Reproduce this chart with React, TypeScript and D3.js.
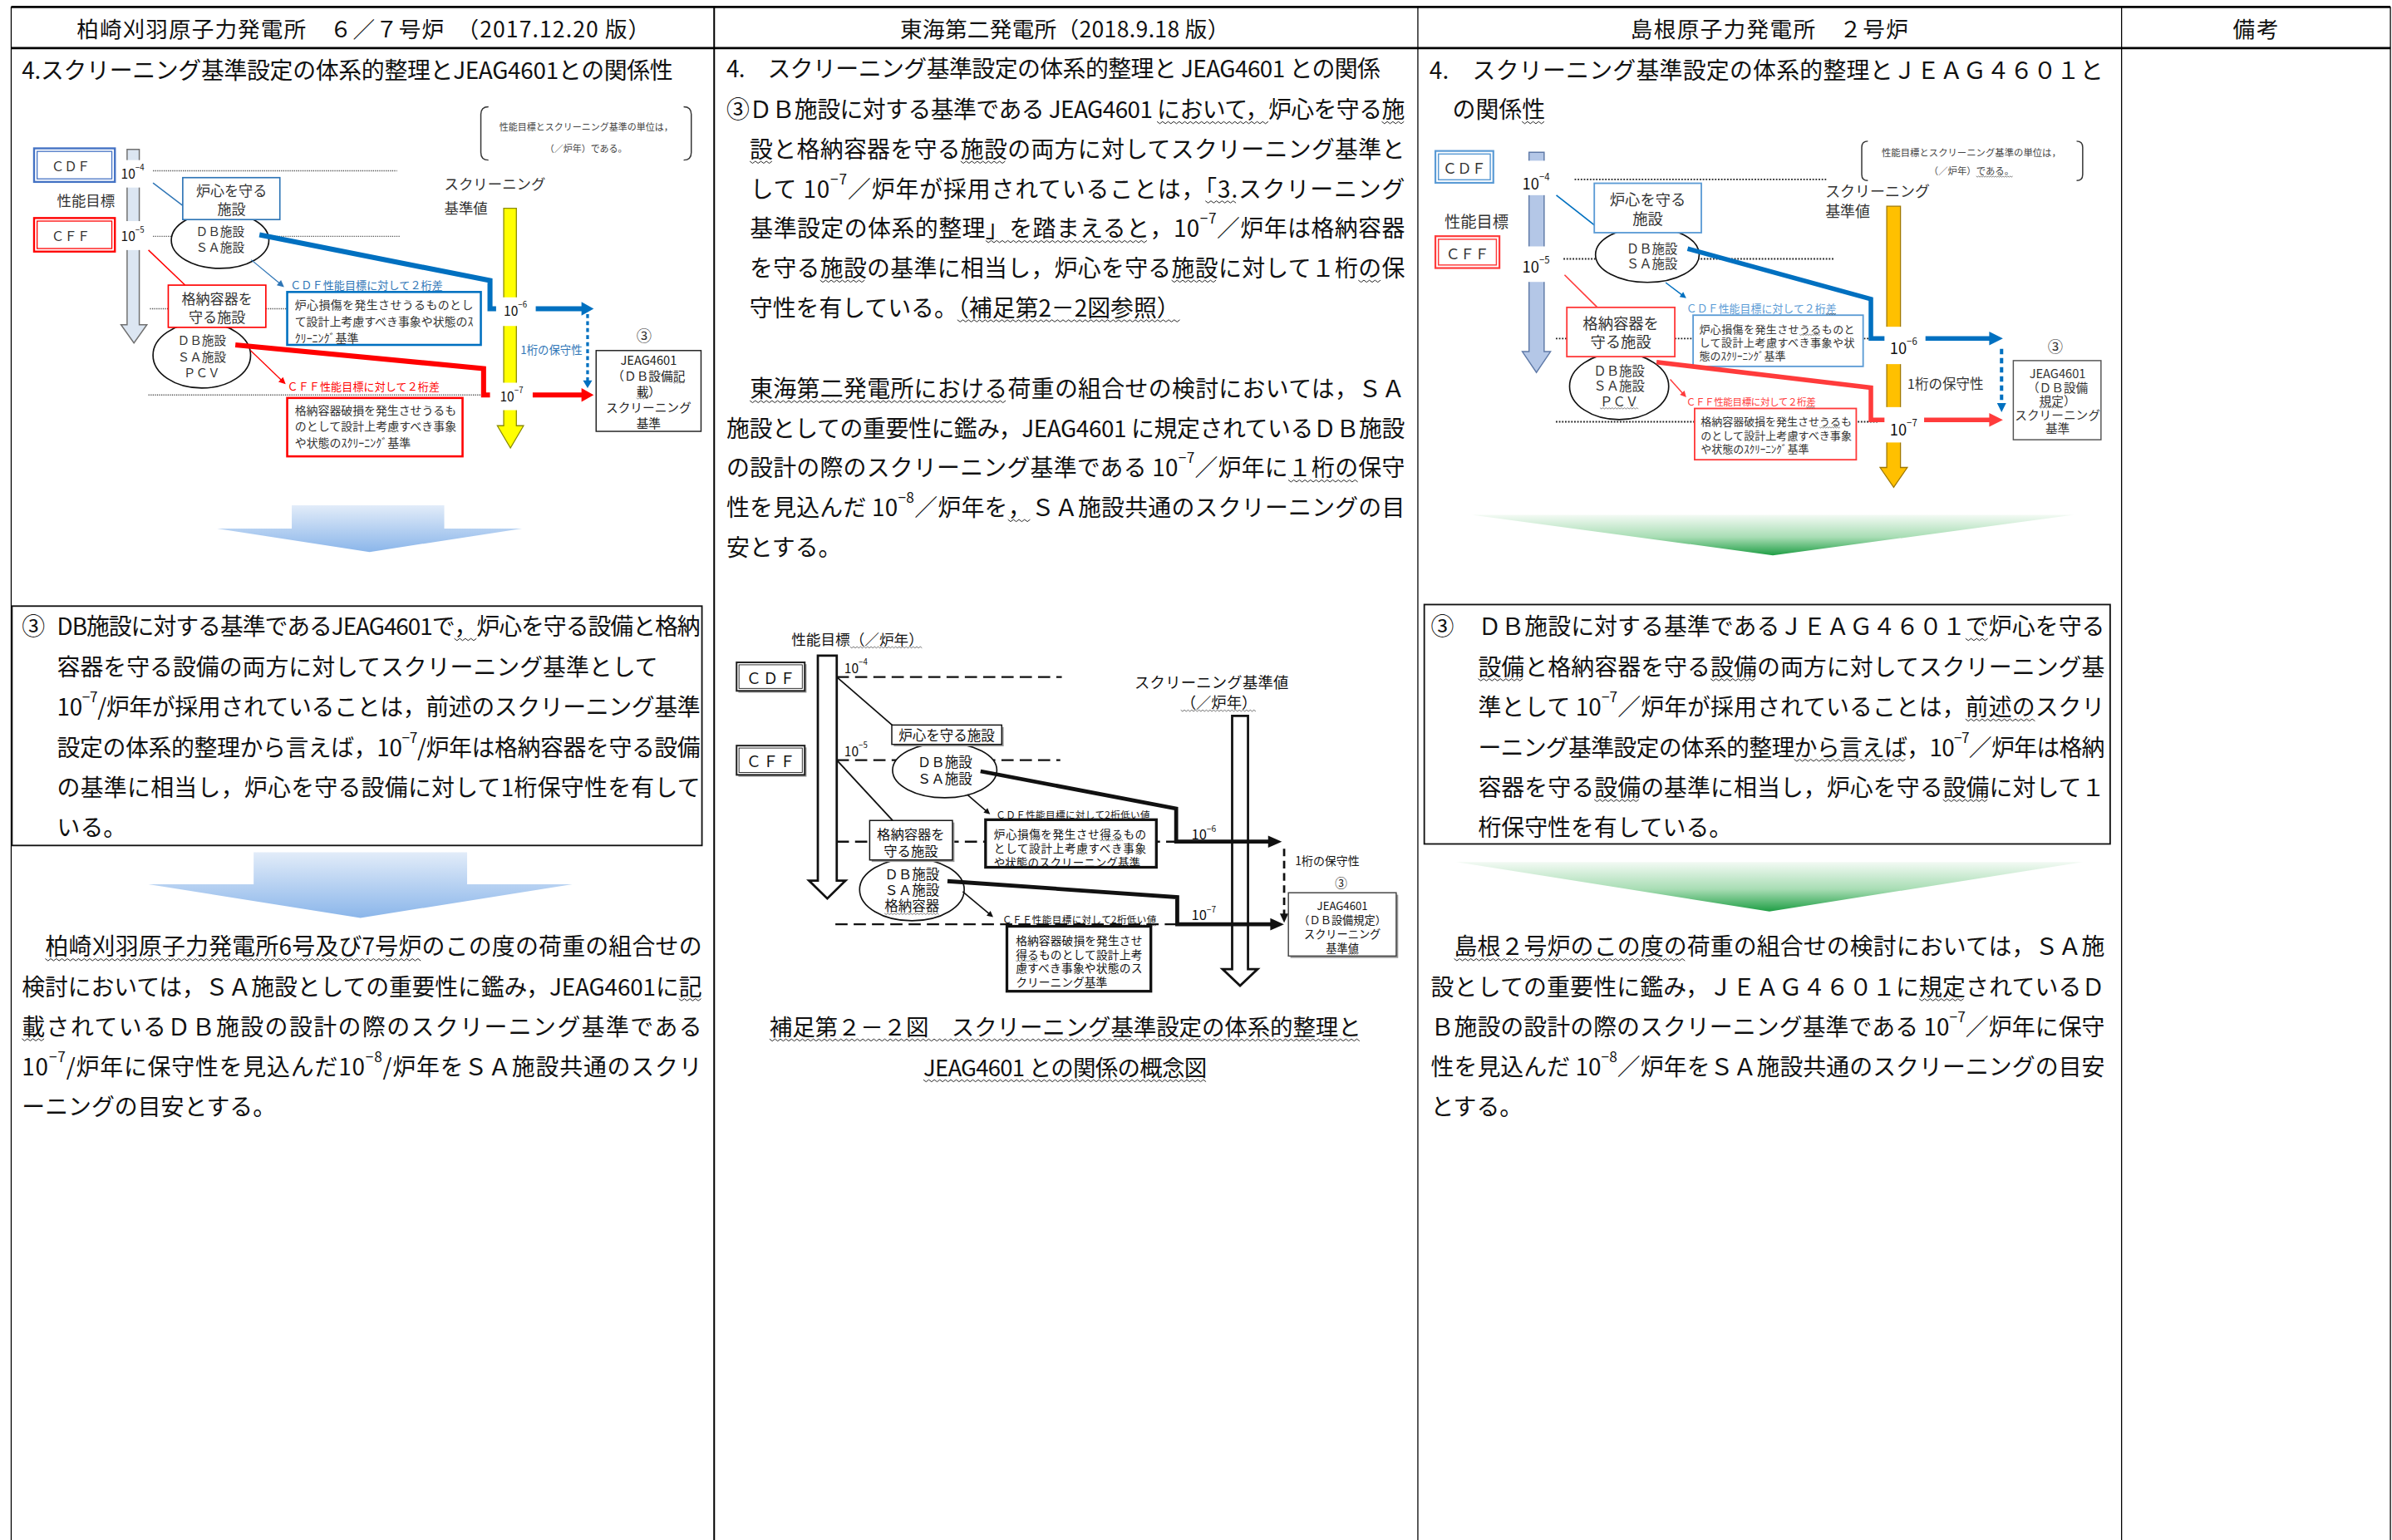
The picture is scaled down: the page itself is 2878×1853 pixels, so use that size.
import { useEffect, useRef } from 'react'
import * as d3 from 'd3'

const FONT = "'Noto Sans CJK JP', 'Noto Sans', sans-serif"

// table header
const HEADERS = ['柏崎刈羽原子力発電所　６／７号炉　（2017.12.20 版）', '東海第二発電所（2018.9.18 版）', '島根原子力発電所　２号炉', '備考']

// 柏崎刈羽 column
const KK_TITLE = '4.スクリーニング基準設定の体系的整理とJEAG4601との関係性'
const KK_BOX = [
  'DB施設に対する基準であるJEAG4601で{，}炉心を守る設備と格納',
  '容器を守る設備の両方に対してスクリーニング基準として',
  '10^-7/炉年が採用されていることは，前述のスクリーニング基準',
  '設定の体系的整理から言えば，10^-7/炉年は格納容器を守る設備',
  'の基準に相当し，炉心を守る設備に対して1桁保守性を有して',
  'いる。',
]
const KK_PARA = [
  '　{柏崎刈羽原子力発電所6号及び7号炉}のこの度の荷重の組合せの',
  '検討においては，ＳＡ施設としての重要性に鑑み，JEAG4601に{記}',
  '{載}されているＤＢ施設の設計の際のスクリーニング基準である',
  '10^-7/炉年に保守性を見込んだ10^-8/炉年をＳＡ施設共通のスクリ',
  'ーニングの目安とする。',
]

// 東海第二 column
const TK_TITLE = '4.　スクリーニング基準設定の体系的整理と JEAG4601 との関係'
const TK_PARA1 = [
  '③ＤＢ施設に対する基準である JEAG4601 {において，}炉心を守る{施}',
  '　{設}と格納容器を守る{施設}の両方に対してスクリーニング基準と',
  '　して 10^-7／炉年が採用されていることは，{「3.}スクリーニング',
  '　基準設定の体系的整理{」を踏まえると}，10^-7／炉年は格納容器',
  '　を守る{施設}の基準に相当し，炉心を守る{施設}に対して１桁{の}保',
  '　守性を有している。{（補足第2－2図参照）}',
]
const TK_PARA2 = [
  '　{東海第二発電所における}荷重の組合せの検討においては，ＳＡ',
  '施設としての重要性に鑑み，JEAG4601 に規定されているＤＢ施設',
  'の設計の際のスクリーニング基準である 10^-7／炉年に{１桁の}保守',
  '性を見込んだ 10^-8／炉年を{，}ＳＡ施設共通のスクリーニングの目',
  '安とする。',
]
const TK_CAPTION = ['{補足第２－２図　スクリーニング基準設定の体系的整理と}', '{JEAG4601 との関係の概念図}']

// 島根 column
const SM_TITLE = ['4.　スクリーニング基準設定の体系的整理とＪＥＡＧ４６０１と', '　の関係{性}']
const SM_BOX = [
  'ＤＢ施設に対する基準であるＪＥＡＧ４６０１{で}炉心を守る',
  '{設備}と格納容器を守る{設備}の両方に対してスクリーニング基',
  '準として 10^-7／炉年が採用されていることは，{前述の}スクリ',
  'ーニング基準設定の体系的整理{から言えば}，10^-7／炉年は格納',
  '容器を守る{設備}の基準に相当し，炉心を守る{設備}に対して１',
  '桁保守性を有している。',
]
const SM_PARA = [
  '　{島根２号炉のこの度の}荷重の組合せの検討においては，ＳＡ施',
  '設としての重要性に鑑み，ＪＥＡＧ４６０１に{規定}されているＤ',
  'Ｂ施設の設計の際のスクリーニング基準である 10^-7／炉年に保守',
  '性を見込んだ 10^-8／炉年をＳＡ施設共通のスクリーニングの目安',
  'とする。',
]

// diagram texts
const LEVEL_EXP = [-4, -5, -6, -7]
const LEVELS = LEVEL_EXP.map(e => Math.pow(10, e))
const NOTE = ['性能目標とスクリーニング基準の単位は，', '（／炉年）である。']
const NOTE_SM = ['性能目標とスクリーニング基準の単位は，', '（／炉年）{である。}']
const KK_CDF_DESC = ['炉心損傷を発生させうるものとし', 'て設計上考慮すべき事象や状態のｽ', 'ｸﾘｰﾆﾝｸﾞ基準']
const KK_CFF_DESC = ['格納容器破損を発生させうるも', 'のとして設計上考慮すべき事象', 'や状態のｽｸﾘｰﾆﾝｸﾞ基準']
const KK_JEAG = ['JEAG4601', '（ＤＢ設備{記}', '{載}）', 'スクリーニング', '基準']
const TK_CDF_DESC = ['炉心損傷を発生させ{得る}もの', 'として設計上考慮すべき事象', 'や状態のスクリーニング基準']
const TK_CFF_DESC = ['格納容器破損を発生させ', '{得る}ものとして設計上考', '慮すべき事象や状態のス', 'クリーニング基準']
const TK_JEAG = ['JEAG4601', '（ＤＢ設備規定）', 'スクリーニング', '基準{値}']
const SM_CDF_DESC = ['炉心損傷を発生させ{うる}ものと', 'して設計上考慮すべき事象や状', '態のｽｸﾘｰﾆﾝｸﾞ基準']
const SM_CFF_DESC = ['格納容器破損を発生させ{うる}も', 'のとして設計上考慮すべき事象', 'や状態のｽｸﾘｰﾆﾝｸﾞ基準']
const SM_JEAG = ['JEAG4601', '（ＤＢ設備', '{規定}）', 'スクリーニング', '基準']

// layout (reference frame 1568 x 1010)
const COL_X = [7, 468, 929.5, 1391, 1567.3]
const HEAD_CX = [238, 698, 1160, 1479]
const HEAD_LEN = [376, 216, 182, 30]
const BODY = 15.2

type Seg = { t: string; sup?: boolean; wv?: boolean }
function parse(s: string): Seg[] {
  const out: Seg[] = []
  let wv = false, buf = ''
  const flush = () => { if (buf) out.push({ t: buf, wv }); buf = '' }
  for (let i = 0; i < s.length; i++) {
    const c = s[i]
    if (c === '{' || c === '}') { flush(); wv = c === '{'; continue }
    if (c === '^') {
      flush()
      let j = i + 1, e = ''
      while (j < s.length && /[-0-9]/.test(s[j])) { e += s[j]; j++ }
      out.push({ t: e.replace('-', '−'), sup: true, wv })
      i = j - 1
      continue
    }
    buf += c
  }
  flush()
  return out
}

function Txt({ s, x, y, size, fill = '#111', anchor = 'start', len }: any) {
  return (
    <text x={x} y={y} fontSize={size} fill={fill} textAnchor={anchor} dominantBaseline="central"
      textLength={len} lengthAdjust={len ? 'spacing' : undefined}>
      {parse(s).map((g, i) => (
        <tspan key={i} className={g.wv ? 'wv' : undefined}
          fontSize={g.sup ? size * 0.62 : undefined}
          baselineShift={g.sup ? size * 0.42 : undefined}>{g.t}</tspan>
      ))}
    </text>
  )
}

function Para({ lines, x0, x1, y0, dy, size = BODY, ragged = [] as number[] }: any) {
  return <>{lines.map((s: string, i: number) => {
    const free = i === lines.length - 1 || ragged.includes(i)
    return <Txt key={i} s={s} x={x0} y={y0 + i * dy} size={size} len={free ? undefined : x1 - x0} />
  })}</>
}

function Lines({ lines, x, y0, dy, size, anchor = 'start', len, fill = '#111' }: any) {
  return <>{lines.map((s: string, i: number) => (
    <Txt key={i} s={s} x={x} y={y0 + i * dy} size={size} anchor={anchor} fill={fill}
      len={len && i < lines.length - 1 ? len : undefined} />
  ))}</>
}

function Arrow({ pts, color = '#111', w = 1, hl = 6, hw = 3, dash }: any) {
  const n = pts.length
  const [x1, y1] = pts[n - 1], [x0, y0] = pts[n - 2]
  const L = Math.hypot(x1 - x0, y1 - y0), ux = (x1 - x0) / L, uy = (y1 - y0) / L
  const bx = x1 - ux * hl, by = y1 - uy * hl
  const d = d3.line()([...pts.slice(0, n - 1), [bx + ux * 0.5, by + uy * 0.5]])
  const head = [[x1, y1], [bx - uy * hw, by + ux * hw], [bx + uy * hw, by - ux * hw]]
  return (
    <g>
      <path d={d || ''} fill="none" stroke={color} strokeWidth={w} strokeDasharray={dash} strokeLinejoin="miter" />
      <polygon points={head.map(p => p.join(',')).join(' ')} fill={color} />
    </g>
  )
}

function Poly({ pts, color = '#111', w = 1 }: any) {
  return <path d={d3.line()(pts) || ''} fill="none" stroke={color} strokeWidth={w} strokeLinejoin="miter" />
}

function BlockArrowV({ x0, x1, y0, y1, hx0, hx1, hy, fill, stroke, sw }: any) {
  const cx = (hx0 + hx1) / 2
  const pts = [[x0, y0], [x1, y0], [x1, hy], [hx1, hy], [cx, y1], [hx0, hy], [x0, hy]]
  return <polygon points={pts.map(p => p.join(',')).join(' ')} fill={fill} stroke={stroke} strokeWidth={sw} />
}

function Bracket({ x0, x1, y0, y1, r = 5 }: any) {
  const p = d3.path()
  p.moveTo(x0 + r, y0); p.quadraticCurveTo(x0, y0, x0, y0 + r); p.lineTo(x0, y1 - r); p.quadraticCurveTo(x0, y1, x0 + r, y1)
  p.moveTo(x1 - r, y0); p.quadraticCurveTo(x1, y0, x1, y0 + r); p.lineTo(x1, y1 - r); p.quadraticCurveTo(x1, y1, x1 - r, y1)
  return <path d={p.toString()} fill="none" stroke="#333" strokeWidth={0.8} />
}

function Box({ x0, y0, x1, y1, stroke = '#111', sw = 0.8, shadow = false }: any) {
  return (
    <g>
      {shadow && <rect x={x0 + 1.3} y={y0 + 1.3} width={x1 - x0} height={y1 - y0} fill="#9a9a9a" />}
      <rect x={x0} y={y0} width={x1 - x0} height={y1 - y0} fill="#fff" stroke={stroke} strokeWidth={sw} />
    </g>
  )
}

function DoubleBox({ x0, y0, x1, y1, color, gap = 2, w1 = 1.3, w2 = 0.7 }: any) {
  return (
    <g fill="#fff" stroke={color}>
      <rect x={x0} y={y0} width={x1 - x0} height={y1 - y0} strokeWidth={w1} />
      <rect x={x0 + gap} y={y0 + gap} width={x1 - x0 - 2 * gap} height={y1 - y0 - 2 * gap} strokeWidth={w2} />
    </g>
  )
}

function Ell({ cx, cy, rx, ry }: any) {
  return <ellipse cx={cx} cy={cy} rx={rx} ry={ry} fill="#fff" stroke="#111" strokeWidth={0.9} />
}

function HL({ x0, x1, y, ...rest }: any) {
  return <line x1={x0} x2={x1} y1={y} y2={y} {...rest} />
}

// 柏崎刈羽 diagram
function DiagramKK() {
  const y = d3.scaleLog().domain(LEVELS).range([112, 155, 202.5, 259])
  const [y4, y5, y6, y7] = LEVELS.map(v => y(v))
  const blue = '#0070c0', red = '#ff0000', lb = '#2e75b6'
  return (
    <g>
      <Bracket x0={315} x1={453} y0={70} y1={105} />
      {NOTE.map((s, i) => <Txt key={i} s={s} x={384} y={83 + i * 14} size={6} anchor="middle" fill="#444" />)}
      <g stroke="#555" strokeWidth={0.8} strokeDasharray="0.7 0.7">
        <HL x0={100} x1={260} y={y4} />
        <HL x0={100} x1={262} y={y5} />
        <HL x0={98} x1={110} y={y6} />
        <HL x0={174} x1={188} y={y6} />
        <HL x0={97} x1={318} y={y7} />
      </g>
      <BlockArrowV x0={83} x1={91} y0={98} y1={225} hx0={79} hx1={96} hy={213} fill="#dce6f2" stroke="#707070" sw={0.8} />
      <rect x={77} y={105} width={22} height={18} fill="#fff" />
      <rect x={77} y={145} width={22} height={19} fill="#fff" />
      <Txt s={`10^${LEVEL_EXP[0]}`} x={79} y={y4 + 1.5} size={8.5} />
      <Txt s={`10^${LEVEL_EXP[1]}`} x={79} y={y5 - 0.5} size={8.5} />
      <DoubleBox x0={22} y0={97.3} x1={75} y1={119.3} color="#4472c4" />
      <Txt s="ＣＤＦ" x={46} y={108.3} size={8.5} anchor="middle" fill="#333" />
      <DoubleBox x0={22} y0={143} x1={75} y1={165} color={red} />
      <Txt s="ＣＦＦ" x={46} y={154} size={8.5} anchor="middle" fill="#333" />
      <Txt s="性能目標" x={37} y={131} size={9.5} fill="#333" />
      <line x1={100} y1={120} x2={119.5} y2={134.8} stroke={lb} strokeWidth={0.8} />
      <line x1={97} y1={164} x2={121} y2={187} stroke={red} strokeWidth={0.8} />
      <Ell cx={144} cy={157.5} rx={32} ry={18.5} />
      <Box x0={119.5} y0={116.5} x1={183.2} y1={144} stroke={lb} sw={0.9} />
      <Lines lines={['炉心を守る', '施設']} x={151.5} y0={124.5} dy={11.5} size={9.3} anchor="middle" fill="#333" />
      <Lines lines={['ＤＢ施設', 'ＳＡ施設']} x={144} y0={151} dy={10.5} size={8} anchor="middle" fill="#333" />
      <Ell cx={132} cy={233} rx={32} ry={21.5} />
      <Box x0={110} y0={187} x1={174} y1={214.7} stroke={red} sw={0.9} />
      <Lines lines={['格納容器を', '守る施設']} x={142} y0={195} dy={12} size={9.3} anchor="middle" fill="#333" />
      <Lines lines={['ＤＢ施設', 'ＳＡ施設', 'ＰＣＶ']} x={132} y0={222.6} dy={10.5} size={8} anchor="middle" fill="#333" />
      <Arrow pts={[[164.4, 170.4], [186, 188.3]]} color={lb} w={0.7} hl={4.5} hw={2.2} />
      <Arrow pts={[[164, 229.9], [187, 252]]} color={red} w={0.7} hl={4.5} hw={2.2} />
      <Txt s="ＣＤＦ性能目標に対して２桁差" x={190} y={186.5} size={7.1} fill={lb} len={100} />
      <Txt s="ＣＦＦ性能目標に対して２桁差" x={188} y={252.7} size={7.1} fill={red} len={100} />
      <Box x0={188} y0={191.5} x1={315} y1={226.2} stroke={blue} sw={1.4} />
      <Lines lines={KK_CDF_DESC} x={193} y0={199.7} dy={10.8} size={7.6} len={117} fill="#333" />
      <Box x0={188} y0={261} x1={303} y1={299.3} stroke={red} sw={1.4} />
      <Lines lines={KK_CFF_DESC} x={193} y0={268.5} dy={10.7} size={7.6} len={106} fill="#333" />
      <BlockArrowV x0={330} x1={338.3} y0={136.6} y1={293.8} hx0={325.8} hx1={343} hy={279.2} fill="#ffff00" stroke="#8a8a00" sw={0.7} />
      <rect x={323} y={195} width={27} height={18.8} fill="#fff" />
      <rect x={323} y={251} width={27} height={18} fill="#fff" />
      <Txt s={`10^${LEVEL_EXP[2]}`} x={330} y={y6 + 1} size={8.5} />
      <Txt s={`10^${LEVEL_EXP[3]}`} x={327.5} y={y7 + 0.5} size={8.5} />
      <Txt s="スクリーニング" x={291} y={119.8} size={9.5} fill="#333" />
      <Txt s="基準値" x={291} y={135.7} size={9.5} fill="#333" />
      <Poly pts={[[169.8, 154], [321, 184], [321, y6], [325, y6]]} color={blue} w={3.3} />
      <Poly pts={[[154, 226.2], [316.8, 241.7], [316.8, y7], [321, y7]]} color={red} w={3.3} />
      <Arrow pts={[[351, y6], [389, y6]]} color={blue} w={3.3} hl={8} hw={4.5} />
      <Arrow pts={[[349, y7], [389, y7]]} color={red} w={3.3} hl={8} hw={4.5} />
      <Arrow pts={[[385, y6 + 3.5], [385, y7 - 4.5]]} color={blue} w={1.8} hl={5} hw={3} dash="2.6 2" />
      <Txt s="1桁の保守性" x={341} y={229} size={7.3} fill={lb} />
      <Txt s="③" x={422} y={219.5} size={10} anchor="middle" fill="#333" />
      <Box x0={390.6} y0={229.9} x1={459.4} y1={282.9} stroke="#222" sw={0.8} />
      <Lines lines={KK_JEAG} x={425} y0={235.7} dy={10.3} size={8} anchor="middle" fill="#222" />
    </g>
  )
}

// 東海第二 diagram
function DiagramTK() {
  const y = d3.scaleLog().domain(LEVELS).range([444, 498.5, 552, 606.2])
  const [y4, y5, y6, y7] = LEVELS.map(v => y(v))
  return (
    <g>
      <Txt s="性能目標{（／炉年）}" x={518.7} y={418.6} size={9.6} />
      <g stroke="#111" strokeWidth={1.3} strokeDasharray="8 4">
        <HL x0={548.4} x1={696} y={y4} />
        <HL x0={548.4} x1={695} y={y5} />
        <HL x0={548.4} x1={771} y={y6} />
        <HL x0={547.5} x1={771} y={y7} />
      </g>
      <g>
        <rect x={483.9} y={435.6} width={44.7} height={18.7} fill="#999" />
        <DoubleBox x0={482.7} y0={434.4} x1={527.4} y1={453.1} color="#222" gap={1.6} w1={1.1} w2={0.5} />
        <Txt s="ＣＤＦ" x={505} y={444} size={10} anchor="middle" len={32} />
        <rect x={483.9} y={490.2} width={44.7} height={19.2} fill="#999" />
        <DoubleBox x0={482.7} y0={489} x1={527.4} y1={508.2} color="#222" gap={1.6} w1={1.1} w2={0.5} />
        <Txt s="ＣＦＦ" x={505} y={498.9} size={10} anchor="middle" len={32} />
      </g>
      <BlockArrowV x0={536} x1={548.4} y0={430} y1={589.3} hx0={530.2} hx1={554.2} hy={577.5} fill="#fff" stroke="#111" sw={1.5} />
      <Txt s={`10^${LEVEL_EXP[0]}`} x={553.3} y={y4 - 6.3} size={8.5} />
      <Txt s={`10^${LEVEL_EXP[1]}`} x={553.3} y={y5 - 6.3} size={8.5} />
      <line x1={548.4} y1={y4} x2={585} y2={475.8} stroke="#111" strokeWidth={1} />
      <line x1={548.4} y1={y5} x2={585} y2={538} stroke="#111" strokeWidth={1} />
      <Ell cx={619.2} cy={505.2} rx={34.2} ry={18} />
      <Box x0={584.5} y0={475.5} x1={656.6} y1={488.2} shadow />
      <Txt s="炉心を守る施設" x={620.5} y={481.8} size={9} anchor="middle" />
      <Lines lines={['ＤＢ施設', 'ＳＡ施設']} x={619.2} y0={499.4} dy={10.9} size={9} anchor="middle" />
      <Ell cx={597.7} cy={583.5} rx={34.3} ry={20.4} />
      <Box x0={570} y0={538.1} x1={624.3} y1={564} shadow />
      <Lines lines={['格納容器を', '守る施設']} x={597} y0={546.7} dy={10.8} size={8.9} anchor="middle" />
      <Lines lines={['ＤＢ施設', 'ＳＡ施設', '{格納容器}']} x={597.7} y0={573} dy={10.4} size={9} anchor="middle" />
      <Arrow pts={[[634, 521.2], [649, 534]]} w={0.9} hl={4} hw={2} />
      <Arrow pts={[[631, 584.8], [651, 601.5]]} w={0.9} hl={4} hw={2} />
      <Txt s="ＣＤＦ性能目標に対して2桁{低い値}" x={652.8} y={534} size={6.3} len={101} />
      <Txt s="ＣＦＦ性能目標に対して2桁{低い値}" x={657} y={603} size={6.3} len={101} />
      <Box x0={646} y0={537.6} x1={758} y1={568.8} sw={1.8} />
      <Lines lines={TK_CDF_DESC} x={651.4} y0={546.5} dy={9.3} size={7.4} len={100} />
      <Box x0={660} y0={607.5} x1={754.4} y1={650.1} sw={1.8} />
      <Lines lines={TK_CFF_DESC} x={665.8} y0={616.5} dy={9.1} size={7.5} len={83} />
      <BlockArrowV x0={807.7} x1={818.1} y0={469.5} y1={646.5} hx0={801.4} hx1={824.4} hy={635.6} fill="#fff" stroke="#111" sw={1.5} />
      <Txt s="スクリーニング基準値" x={743.7} y={446.8} size={10} len={101} />
      <Txt s="{（／炉年）}" x={774} y={459.9} size={10} />
      <Arrow pts={[[642.7, 505.8], [771, 530.3], [771, y6], [840.3, y6]]} w={2.6} hl={9} hw={4} />
      <Arrow pts={[[621, 577.9], [771.7, 588.4], [771.7, y7], [841.7, y7]]} w={2.6} hl={9} hw={4} />
      <Txt s={`10^${LEVEL_EXP[2]}`} x={781} y={y6 - 5.4} size={9} />
      <Txt s={`10^${LEVEL_EXP[3]}`} x={781} y={y7 - 6.9} size={9} />
      <Arrow pts={[[841.8, y6 + 4.6], [841.8, y7 - 1]]} w={1.5} hl={6} hw={2.8} dash="5 3" />
      <Txt s="1桁の保守性" x={849} y={564} size={7.6} />
      <Txt s="③" x={879.2} y={578.4} size={8} anchor="middle" />
      <Box x0={844.6} y0={585.5} x1={915.3} y1={627} stroke="#444" sw={0.8} shadow />
      <Lines lines={TK_JEAG} x={880} y0={593.8} dy={9.1} size={7.2} anchor="middle" />
      <Txt s={TK_CAPTION[0]} x={504.3} y={672.8} size={15} len={388} />
      <Txt s={TK_CAPTION[1]} x={605.2} y={699.5} size={15} len={186} />
    </g>
  )
}

// 島根 diagram
function DiagramSM() {
  const y = d3.scaleLog().domain(LEVELS).range([117.7, 169.8, 222, 275.4])
  const [y4, y5, y6, y7] = LEVELS.map(v => y(v))
  const blue = '#0070c0', lb = '#5b9bd5', red = '#ff3b3b'
  return (
    <g>
      <Bracket x0={1220.6} x1={1365.5} y0={92.6} y1={118.4} r={4} />
      {NOTE_SM.map((s, i) => <Txt key={i} s={s} x={1292.5} y={99.9 + i * 12.1} size={6.2} anchor="middle" fill="#444" />)}
      <g stroke="#222" strokeWidth={1} strokeDasharray="1 1">
        <HL x0={1032.3} x1={1198.2} y={y4} />
        <HL x0={1025} x1={1202.6} y={y5} />
        <HL x0={1020} x1={1235.5} y={y6} />
        <HL x0={1020} x1={1235.5} y={y7 + 1.2} />
      </g>
      <BlockArrowV x0={1002.4} x1={1012.3} y0={99.9} y1={244.3} hx0={998} hx1={1016.5} hy={230.6} fill="#b4c7e7" stroke="#5f7aa8" sw={0.8} />
      <rect x={996} y={105.4} width={26} height={22.6} fill="#fff" />
      <rect x={996} y={161.6} width={26} height={23.3} fill="#fff" />
      <Txt s={`10^${LEVEL_EXP[0]}`} x={998} y={y4 + 2} size={10} />
      <Txt s={`10^${LEVEL_EXP[1]}`} x={998} y={y5 + 4.5} size={10} />
      <DoubleBox x0={941} y0={99} x1={979} y1={119.9} color={lb} w1={1.2} w2={0.8} />
      <Txt s="ＣＤＦ" x={960} y={109.5} size={9.5} anchor="middle" fill="#333" />
      <DoubleBox x0={941} y0={154.9} x1={983} y1={175.8} color={red} w1={1.2} w2={0.8} />
      <Txt s="ＣＦＦ" x={962} y={165.6} size={9.5} anchor="middle" fill="#333" />
      <Txt s="性能目標" x={947} y={145} size={10.5} fill="#333" />
      <line x1={1020.3} y1={128} x2={1045.8} y2={148} stroke={blue} strokeWidth={0.9} />
      <line x1={1025.7} y1={180.3} x2={1047.2} y2={201.6} stroke={red} strokeWidth={0.9} />
      <Ell cx={1080} cy={167} rx={34} ry={18.2} />
      <Box x0={1045.2} y0={120.2} x1={1115.4} y1={152.6} stroke={lb} sw={1} />
      <Lines lines={['炉心を守る', '施設']} x={1080.3} y0={130.4} dy={12.2} size={10} anchor="middle" fill="#333" />
      <Lines lines={['ＤＢ施設', 'ＳＡ施設']} x={1083} y0={162.4} dy={10} size={8.4} anchor="middle" fill="#333" />
      <Ell cx={1061.5} cy={253.4} rx={32.5} ry={21.8} />
      <Box x0={1027.2} y0={201.6} x1={1098} y1={233.9} stroke={red} sw={1} />
      <Lines lines={['格納容器を', '守る施設']} x={1062.6} y0={211.6} dy={12.1} size={10} anchor="middle" fill="#333" />
      <Lines lines={['ＤＢ施設', 'ＳＡ施設', '{ＰＣＶ}']} x={1061.5} y0={242.4} dy={10.1} size={8.4} anchor="middle" fill="#333" />
      <Arrow pts={[[1092, 185.3], [1105.5, 195.5]]} color={blue} w={0.8} hl={4} hw={2} />
      <Arrow pts={[[1095, 248.8], [1105.5, 260.5]]} color={red} w={0.8} hl={4} hw={2} />
      <Txt s="ＣＤＦ性能目標に対して２桁{差}" x={1105.5} y={201.6} size={7} fill={lb} len={98.5} />
      <Txt s="ＣＦＦ性能目標に対して２桁{差}" x={1105.5} y={263.3} size={6.3} fill={red} len={85} />
      <Box x0={1110} y0={206.7} x1={1221.5} y1={240.3} stroke={lb} sw={1} />
      <Lines lines={SM_CDF_DESC} x={1114} y0={215.2} dy={8.8} size={7.1} len={102} fill="#333" />
      <Box x0={1111} y0={267.9} x1={1217} y1={301.5} stroke={red} sw={1} />
      <Lines lines={SM_CFF_DESC} x={1115} y0={276} dy={8.9} size={7.1} len={99} fill="#333" />
      <BlockArrowV x0={1237} x1={1246} y0={135.3} y1={319.6} hx0={1232.6} hx1={1250.5} hy={306.6} fill="#ffc000" stroke="#a07800" sw={0.7} />
      <rect x={1231} y={214.3} width={27} height={24.5} fill="#fff" />
      <rect x={1231} y={267} width={27} height={23.2} fill="#fff" />
      <Txt s="スクリーニング" x={1196.7} y={125} size={9.8} fill="#333" />
      <Txt s="基準値" x={1196.7} y={138} size={9.8} fill="#333" />
      <Poly pts={[[1106.4, 163.1], [1226.6, 196.1], [1226.6, y6], [1235.5, y6]]} color={blue} w={3} />
      <Poly pts={[[1086, 237.5], [1226.6, 254.3], [1226.6, y7], [1235.5, y7]]} color={red} w={3} />
      <Txt s={`10^${LEVEL_EXP[2]}`} x={1239} y={y6 + 6} size={10} />
      <Txt s={`10^${LEVEL_EXP[3]}`} x={1239} y={y7 + 6} size={10} />
      <Arrow pts={[[1262.4, y6], [1313.2, y6]]} color={blue} w={3} hl={9} hw={4.5} />
      <Arrow pts={[[1261.5, y7], [1313.2, y7]]} color={red} w={3} hl={9} hw={4.5} />
      <Arrow pts={[[1312.3, y6 + 6.8], [1312.3, y7 - 5]]} color={blue} w={2.2} hl={6} hw={3} dash="3.5 2.5" />
      <Txt s="1桁の保守性" x={1250.5} y={251.5} size={9} fill="#333" />
      <Txt s="③" x={1347.6} y={227} size={10} anchor="middle" fill="#333" />
      <Box x0={1320} y0={236.5} x1={1377.5} y1={288.4} stroke="#555" sw={0.8} />
      <Lines lines={SM_JEAG} x={1349} y0={244.3} dy={9} size={8} anchor="middle" fill="#333" />
    </g>
  )
}

function BlockArrow({ bx0, bx1, by0, hy, hx0, hx1, tipY, fill }: any) {
  const cx = (hx0 + hx1) / 2
  const pts = bx0 === bx1
    ? [[hx0, hy], [hx1, hy], [cx, tipY]]
    : [[bx0, by0], [bx1, by0], [bx1, hy], [hx1, hy], [cx, tipY], [hx0, hy], [bx0, hy]]
  return <polygon points={pts.map(p => p.join(',')).join(' ')} fill={fill} />
}

export default function App() {
  const ref = useRef<SVGSVGElement>(null)

  useEffect(() => {
    if (!ref.current) return
    const svg = d3.select(ref.current)
    const g = svg.select('g.waves')
    g.selectAll('*').remove()
    svg.selectAll('tspan.wv').each(function () {
      const el = this as SVGTSpanElement
      const n = el.getNumberOfChars()
      if (!n) return
      const text = el.closest('text') as SVGTextElement
      const size = +(text.getAttribute('font-size') || 10)
      const yc = +(text.getAttribute('y') || 0)
      let a = 0, b = 0
      try { a = el.getStartPositionOfChar(0).x; b = el.getEndPositionOfChar(n - 1).x } catch { return }
      const yy = yc + size * 0.62
      const amp = Math.max(0.3, size * 0.045), step = Math.max(0.8, size * 0.12)
      const pts: [number, number][] = []
      for (let x = a, i = 0; x <= b + 0.01; x += step, i++) pts.push([x, yy + (i % 2 ? amp : -amp)])
      g.append('path').attr('d', d3.line()(pts)).attr('fill', 'none')
        .attr('stroke', '#222').attr('stroke-width', Math.max(0.3, size * 0.035))
    })
  }, [])

  return (
    <svg ref={ref} width={2878} height={1853} viewBox="0 0 1568 1010"
      style={{ position: 'absolute', left: 0, top: 0, display: 'block', background: '#fff' }}
      fontFamily={FONT}>
      <defs>
        <linearGradient id="gBlue" x1="0" y1="0" x2="0" y2="1">
          <stop offset="0" stopColor="#e2ecf9" />
          <stop offset="1" stopColor="#8bb6ea" />
        </linearGradient>
        <linearGradient id="gGreen" x1="0" y1="0" x2="0" y2="1">
          <stop offset="0" stopColor="#f3faf4" />
          <stop offset="0.55" stopColor="#a8ddb4" />
          <stop offset="1" stopColor="#1f9e45" />
        </linearGradient>
      </defs>
      <rect x={0} y={0} width={1568} height={1010} fill="#fff" />

      {/* table frame */}
      <g stroke="#000">
        <HL x0={COL_X[0]} x1={COL_X[4]} y={4.5} strokeWidth={1.5} />
        <HL x0={COL_X[0]} x1={COL_X[4]} y={31.5} strokeWidth={1.5} />
        {COL_X.map((x, i) => <line key={i} x1={x} x2={x} y1={4.5} y2={1010} strokeWidth={i === 1 ? 1.1 : 0.7} />)}
      </g>
      {HEADERS.map((h, i) => (
        <Txt key={i} s={h} x={HEAD_CX[i] - HEAD_LEN[i] / 2} y={18} size={14.5} len={HEAD_LEN[i]} />
      ))}

      {/* 柏崎刈羽 */}
      <Txt s={KK_TITLE} x={14} y={45} size={BODY} len={427} />
      <DiagramKK />
      <BlockArrow bx0={191} bx1={291} by0={331.4} hy={346.6} hx0={142} hx1={342} tipY={362} fill="url(#gBlue)" />
      <rect x={7.5} y={397.5} width={452.5} height={157} fill="none" stroke="#111" strokeWidth={1} />
      <Txt s="③" x={14} y={410} size={BODY} />
      <Para lines={KK_BOX} x0={37} x1={459} y0={410} dy={26.4} ragged={[1]} />
      <BlockArrow bx0={166} bx1={306} by0={559} hy={580} hx0={97} hx1={375} tipY={602} fill="url(#gBlue)" />
      <Para lines={KK_PARA} x0={14} x1={460} y0={620} dy={26.25} />

      {/* 東海第二 */}
      <Txt s={TK_TITLE} x={476} y={44} size={BODY} len={429} />
      <Para lines={TK_PARA1} x0={476} x1={921} y0={71} dy={26} />
      <Para lines={TK_PARA2} x0={476} x1={921} y0={254} dy={26} />
      <DiagramTK />

      {/* 島根 */}
      <Txt s={SM_TITLE[0]} x={937} y={45} size={BODY} len={442} />
      <Txt s={SM_TITLE[1]} x={937} y={71} size={BODY} />
      <DiagramSM />
      <BlockArrow bx0={0} bx1={0} hy={337.7} hx0={965} hx1={1359.6} tipY={364.2} fill="url(#gGreen)" />
      <rect x={933.7} y={396.5} width={449.8} height={157} fill="none" stroke="#111" strokeWidth={1} />
      <Txt s="③" x={938} y={410} size={BODY} />
      <Para lines={SM_BOX} x0={969} x1={1380} y0={410} dy={26.4} />
      <BlockArrow bx0={0} bx1={0} hy={565.3} hx0={954.6} hx1={1365.5} tipY={597.8} fill="url(#gGreen)" />
      <Para lines={SM_PARA} x0={938} x1={1380} y0={620} dy={26.25} />

      <g className="waves" />
    </svg>
  )
}
